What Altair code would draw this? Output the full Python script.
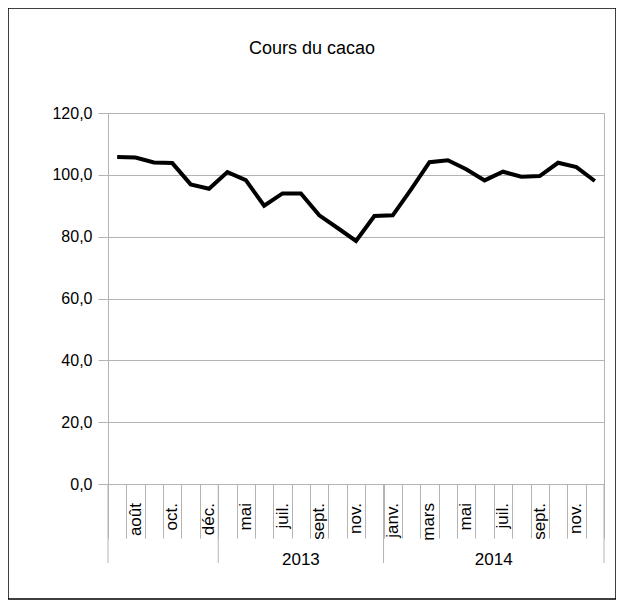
import altair as alt
import pandas as pd

# ---- data ----
months = ["juil.", "août", "sept.", "oct.", "nov.", "déc.",
          "avr.", "mai", "juin", "juil.", "août", "sept.", "oct.", "nov.", "déc.",
          "janv.", "févr.", "mars", "avr.", "mai", "juin", "juil.", "août", "sept.", "oct.", "nov.", "déc."]
years = [""] * 6 + ["2013"] * 9 + ["2014"] * 12
values = [105.8, 105.6, 104.0, 103.8, 96.9, 95.5,
          100.9, 98.3, 90.0, 94.0, 94.0, 86.9, 82.8, 78.6, 86.7,
          86.9, 95.3, 104.1, 104.7, 101.8, 98.2, 101.0, 99.4, 99.6, 103.9, 102.5, 98.0]
y_ticks = [0, 20, 40, 60, 80, 100, 120]
title_text = ["Cours du cacao"]

W, H = 496, 371
GRAY = "#b3b3b3"
FONT = "Liberation Sans"
FS = 16

n = len(months)
df = pd.DataFrame({"idx": list(range(n)), "month": months, "year": years, "value": values})

# group (year) extents
groups = df.groupby("year", sort=False)["idx"].agg(["min", "max"]).reset_index()
groups["mid"] = (groups["min"] + groups["max"]) / 2
bounds = sorted(set([g - 0.5 for g in groups["min"]] + [g + 0.5 for g in groups["max"]]))
bounds_df = pd.DataFrame({"b": bounds})
year_df = groups[groups["year"] != ""][["year", "mid"]]

cat_bounds = [i - 0.5 for i in range(n + 1)]


def xenc(field):
    return alt.X(field,
                 scale=alt.Scale(domain=[-0.5, n - 0.5], nice=False, zero=False),
                 axis=alt.Axis(values=cat_bounds, labels=False, title=None, grid=False,
                               tickSize=54, tickColor=GRAY, domainColor=GRAY, tickWidth=1))


Y = alt.Y("value:Q",
          scale=alt.Scale(domain=[0, 120], nice=False),
          axis=alt.Axis(values=y_ticks, title=None, tickSize=10, tickColor=GRAY,
                        domainColor=GRAY, gridColor=GRAY, labelPadding=6,
                        labelExpr="replace(format(datum.value, '.1f'), '.', ',')",
                        labelFont=FONT, labelFontSize=FS, labelColor="black"))

line = alt.Chart(df).mark_line(color="black", strokeWidth=4).encode(x=xenc("idx:Q"), y=Y)

month_labels = alt.Chart(df).transform_filter("datum.idx % 2 == 1").mark_text(
    angle=270, align="right", baseline="middle", font=FONT, fontSize=FS + 1, color="black"
).encode(x=xenc("idx:Q"), y=alt.value(H + 19), text="month:N")

group_rules = alt.Chart(bounds_df).mark_rule(color=GRAY, strokeWidth=1).encode(
    x=xenc("b:Q"), y=alt.value(H), y2=alt.value(H + 79))

year_labels = alt.Chart(year_df).mark_text(
    align="center", baseline="middle", font=FONT, fontSize=FS + 1, color="black"
).encode(x=xenc("mid:Q"), y=alt.value(H + 76), text="year:N")

title = alt.Chart(pd.DataFrame({"t": title_text})).mark_text(
    align="center", baseline="middle", font=FONT, fontSize=18, color="black"
).encode(x=alt.value(204), y=alt.value(-64), text="t:N")

frame = alt.Chart(pd.DataFrame({"f": [0]})).mark_rect(
    fill="transparent", stroke="black", strokeWidth=1.5
).encode(x=alt.value(-100), x2=alt.value(508), y=alt.value(-105), y2=alt.value(486))

chart = alt.layer(frame, title, line, group_rules, month_labels, year_labels).properties(
    width=W, height=H,
    autosize=alt.AutoSizeParams(type="none"),
    padding={"left": 100, "top": 105, "right": 12, "bottom": 116},
    background="white",
).configure_view(stroke=GRAY, strokeWidth=1)

chart.save("out.html", embed_options={"renderer": "svg", "actions": False})
